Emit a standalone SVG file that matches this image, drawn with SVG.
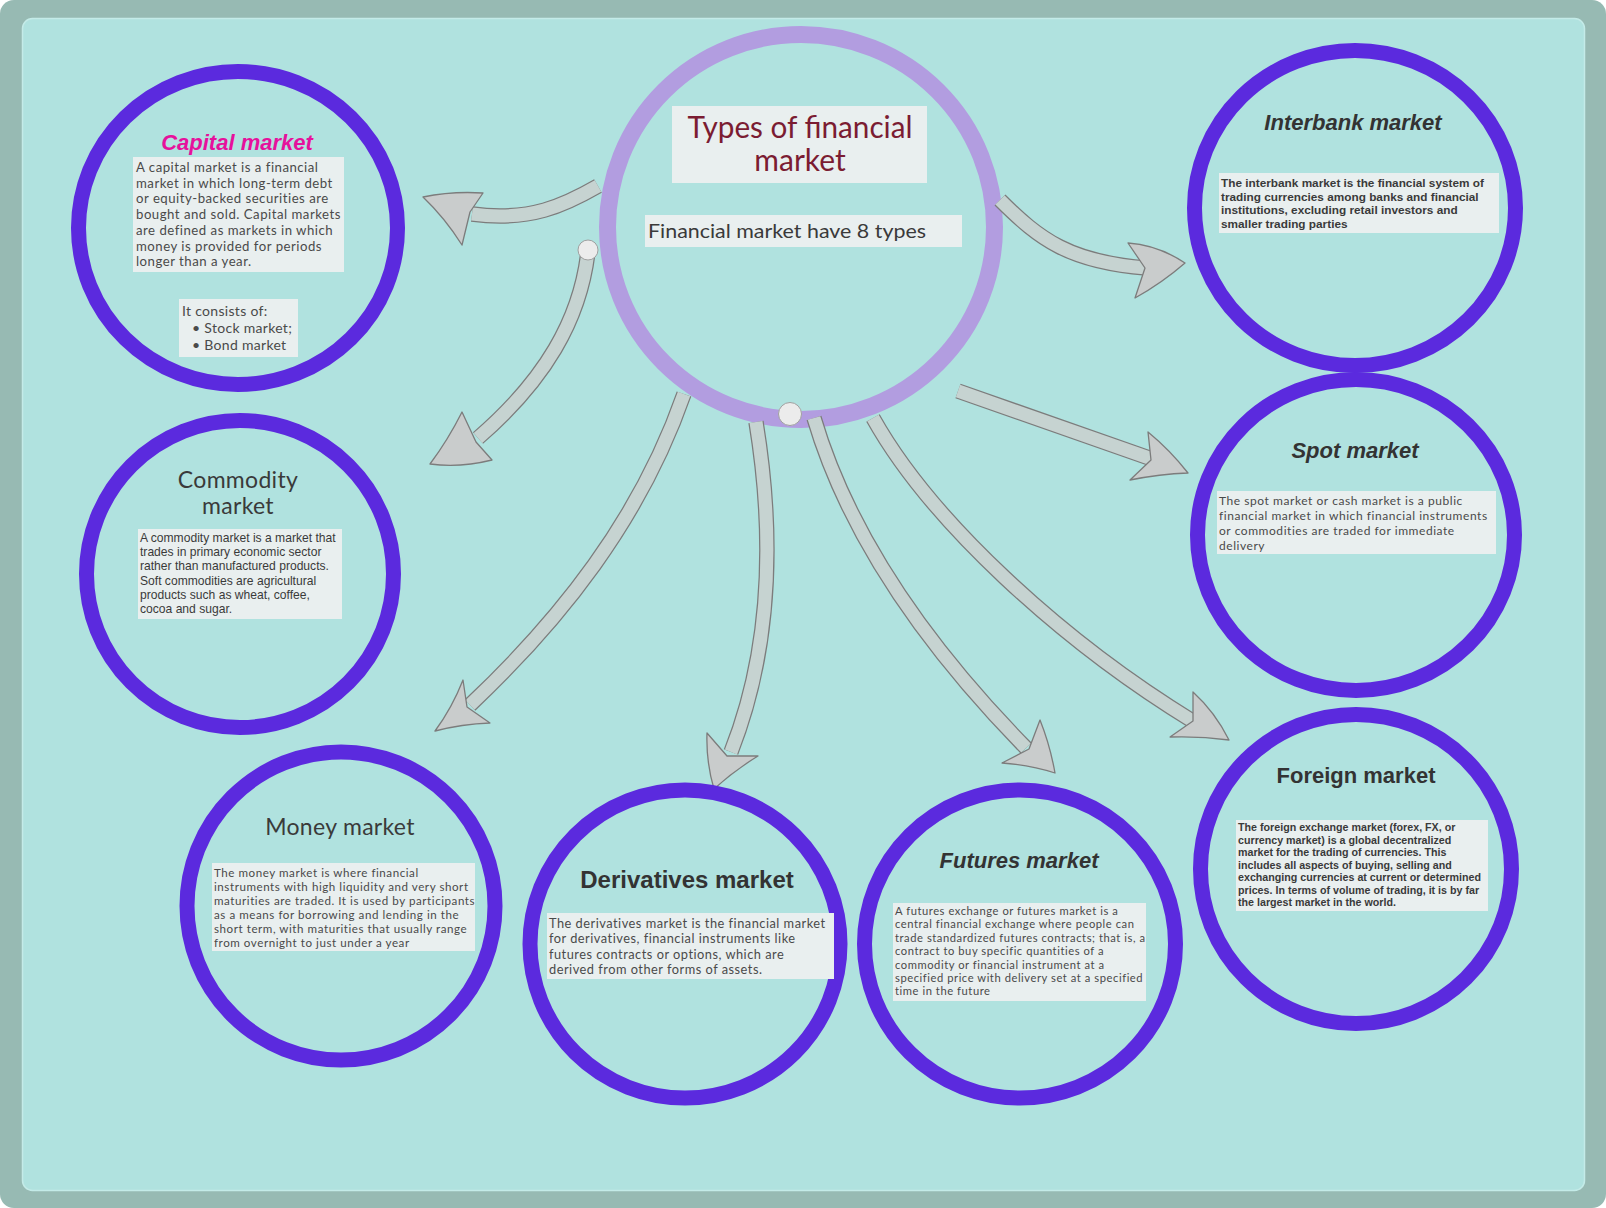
<svg xmlns="http://www.w3.org/2000/svg" width="1606" height="1208" viewBox="0 0 1606 1208">
<defs>
<style>
.ring{fill:none;stroke:#5b2ade;stroke-width:15}
.hub{fill:none;stroke:#b29de0;stroke-width:17}
.box{fill:#e9efef}
.q{font-family:"Lato","Open Sans",sans-serif;fill:#4a4a4a;letter-spacing:0.55px}
.a{font-family:"Liberation Sans",Arial,sans-serif;fill:#3a3a3a}
.tq{font-family:"Lato","Open Sans",sans-serif;fill:#3a3a3a;font-size:23px;text-anchor:middle;letter-spacing:0.3px}
.tb{font-family:"Liberation Sans",Arial,sans-serif;fill:#333;font-weight:bold;font-size:22px;text-anchor:middle}
.it{font-style:italic}
.sho{fill:none;stroke:#7c7c7c;stroke-width:15.5}
.sh{fill:none;stroke:#c6d3d1;stroke-width:13}
.hd{fill:#c9cccc;stroke:#7c7c7c;stroke-width:1.3;stroke-linejoin:round}
.dot{fill:#ececec;stroke:#a0a0a0;stroke-width:1}
</style>
</defs>
<rect x="0" y="0" width="1606" height="1208" rx="14" fill="#97bab3"/>
<rect x="22.5" y="18.5" width="1562" height="1172" rx="10" fill="#b0e2df" stroke="#c4ebe8" stroke-width="1.5"/>

<g id="central">
<ellipse class="hub" cx="801" cy="227" rx="193.5" ry="192.5"/>
<rect class="box" x="672" y="106" width="255" height="77"/>
<text x="800" y="138" font-family="Lato,'Open Sans',sans-serif" font-size="30" fill="#7b1c32" text-anchor="middle" textLength="225" lengthAdjust="spacingAndGlyphs">Types of financial</text>
<text x="800" y="171" font-family="Lato,'Open Sans',sans-serif" font-size="30" fill="#7b1c32" text-anchor="middle">market</text>
<rect class="box" x="645" y="215" width="317" height="32"/>
<text x="648" y="238" font-family="Lato,'Open Sans',sans-serif" font-size="20" fill="#3a3a3a" textLength="278" lengthAdjust="spacingAndGlyphs">Financial market have 8 types</text>
</g>

<g id="connectors">
<path class="sho" d="M598 186 C565 205 530 222 472 214"/>
<path class="sh" d="M598 186 C565 205 530 222 472 214"/>
<path class="hd" d="M423 197 Q452 191 483 193 L470 212 L462 245 Q445 218 423 197 Z"/>

<path class="sho" d="M588 252 C580 320 545 380 478 438"/>
<path class="sh" d="M588 252 C580 320 545 380 478 438"/>
<path class="hd" d="M430 464 Q448 440 462 412 L476 442 L492 460 Q460 468 430 464 Z"/>

<path class="sho" d="M684 394 C640 520 560 620 470 705"/>
<path class="sh" d="M684 394 C640 520 560 620 470 705"/>
<path class="hd" d="M435 731 Q452 708 463 680 L467 707 L490 723 Q462 724 435 731 Z"/>

<path class="sho" d="M756 422 C772 520 775 640 731 752"/>
<path class="sh" d="M756 422 C772 520 775 640 731 752"/>
<path class="hd" d="M714 789 Q706 762 707 733 L727 756 L758 756 Q735 770 714 789 Z"/>

<path class="sho" d="M814 418 C850 540 930 650 1026 748"/>
<path class="sh" d="M814 418 C850 540 930 650 1026 748"/>
<path class="hd" d="M1055 773 Q1050 745 1040 720 L1029 749 L1002 763 Q1030 765 1055 773 Z"/>

<path class="sho" d="M873 418 C930 520 1060 640 1194 722"/>
<path class="sh" d="M873 418 C930 520 1060 640 1194 722"/>
<path class="hd" d="M1229 740 Q1215 712 1193 692 L1193 721 L1170 737 Q1200 736 1229 740 Z"/>

<path class="sho" d="M958 391 L1152 459"/>
<path class="sh" d="M958 391 L1152 459"/>
<path class="hd" d="M1188 473 Q1170 450 1148 432 L1151 460 L1130 480 Q1160 474 1188 473 Z"/>

<path class="sho" d="M1000 200 C1040 240 1070 262 1146 268"/>
<path class="sh" d="M1000 200 C1040 240 1070 262 1146 268"/>
<path class="hd" d="M1185 263 Q1158 245 1128 243 L1145 268 L1135 298 Q1162 283 1185 263 Z"/>

<circle class="dot" cx="588" cy="250" r="10"/>
<circle class="dot" cx="790" cy="414" r="11.5"/>
</g>

<g id="capital">
<ellipse class="ring" cx="238" cy="228" rx="159.5" ry="156.5"/>
<text x="237" y="150" class="tb it" style="fill:#e6119c">Capital market</text>
<rect class="box" x="133" y="157" width="211" height="115"/>
<text class="q" font-size="13.2" style="letter-spacing:0.5px">
<tspan x="136" y="172">A capital market is a financial</tspan>
<tspan x="136" y="187.7">market in which long-term debt</tspan>
<tspan x="136" y="203.4">or equity-backed securities are</tspan>
<tspan x="136" y="219.1">bought and sold. Capital markets</tspan>
<tspan x="136" y="234.8">are defined as markets in which</tspan>
<tspan x="136" y="250.5">money is provided for periods</tspan>
<tspan x="136" y="266.2">longer than a year.</tspan>
</text>
<rect class="box" x="179" y="299" width="119" height="58"/>
<text class="q" font-size="14" style="letter-spacing:0.3px">
<tspan x="182" y="316">It consists of:</tspan>
<tspan x="192" y="333">• Stock market;</tspan>
<tspan x="192" y="350">• Bond market</tspan>
</text>
</g>

<g id="commodity">
<ellipse class="ring" cx="240" cy="574" rx="153.5" ry="153.5"/>
<text class="tq" x="238" y="488">Commodity</text>
<text class="tq" x="238" y="514">market</text>
<rect class="box" x="138" y="529" width="204" height="90"/>
<text class="a" font-size="12.1" fill="#444">
<tspan x="140" y="542">A commodity market is a market that</tspan>
<tspan x="140" y="556.2">trades in primary economic sector</tspan>
<tspan x="140" y="570.4">rather than manufactured products.</tspan>
<tspan x="140" y="584.6">Soft commodities are agricultural</tspan>
<tspan x="140" y="598.8">products such as wheat, coffee,</tspan>
<tspan x="140" y="613">cocoa and sugar.</tspan>
</text>
</g>

<g id="interbank">
<ellipse class="ring" cx="1355" cy="208" rx="160.5" ry="157.5"/>
<text class="tb it" x="1353" y="130">Interbank market</text>
<rect class="box" x="1219" y="173" width="280" height="60"/>
<text class="a" font-size="11.8" font-weight="bold" fill="#2a2a2a">
<tspan x="1221" y="187">The interbank market is the financial system of</tspan>
<tspan x="1221" y="200.5">trading currencies among banks and financial</tspan>
<tspan x="1221" y="214">institutions, excluding retail investors and</tspan>
<tspan x="1221" y="227.5">smaller trading parties</tspan>
</text>
</g>

<g id="spot">
<ellipse class="ring" cx="1356" cy="535" rx="158.5" ry="155.5"/>
<text class="tb it" x="1355" y="458">Spot market</text>
<rect class="box" x="1217" y="491" width="279" height="63"/>
<text class="q" font-size="12" style="letter-spacing:0.55px">
<tspan x="1219" y="505">The spot market or cash market is a public</tspan>
<tspan x="1219" y="520">financial market in which financial instruments</tspan>
<tspan x="1219" y="535">or commodities are traded for immediate</tspan>
<tspan x="1219" y="549.5">delivery</tspan>
</text>
</g>

<g id="foreign">
<ellipse class="ring" cx="1356" cy="869" rx="155.5" ry="154.5"/>
<text class="tb" x="1356" y="783">Foreign market</text>
<rect class="box" x="1236" y="820" width="252" height="91"/>
<text class="a" font-size="10.7" font-weight="bold" fill="#2a2a2a">
<tspan x="1238" y="831">The foreign exchange market (forex, FX, or</tspan>
<tspan x="1238" y="843.5">currency market) is a global decentralized</tspan>
<tspan x="1238" y="856">market for the trading of currencies. This</tspan>
<tspan x="1238" y="868.5">includes all aspects of buying, selling and</tspan>
<tspan x="1238" y="881">exchanging currencies at current or determined</tspan>
<tspan x="1238" y="893.5">prices. In terms of volume of trading, it is by far</tspan>
<tspan x="1238" y="906">the largest market in the world.</tspan>
</text>
</g>

<g id="money">
<ellipse class="ring" cx="341" cy="906" rx="154" ry="154"/>
<text class="tq" x="340" y="835">Money market</text>
<rect class="box" x="212" y="863" width="263" height="88"/>
<text class="q" font-size="11.6" style="letter-spacing:0.55px">
<tspan x="214" y="877">The money market is where financial</tspan>
<tspan x="214" y="891">instruments with high liquidity and very short</tspan>
<tspan x="214" y="905">maturities are traded. It is used by participants</tspan>
<tspan x="214" y="919">as a means for borrowing and lending in the</tspan>
<tspan x="214" y="933">short term, with maturities that usually range</tspan>
<tspan x="214" y="947">from overnight to just under a year</tspan>
</text>
</g>

<g id="derivatives">
<ellipse class="ring" cx="685" cy="944" rx="155" ry="154"/>
<text class="tb" x="687" y="888" style="font-size:24px">Derivatives market</text>
<rect class="box" x="547" y="913" width="287" height="66"/>
<text class="q" font-size="12.8" style="letter-spacing:0.5px">
<tspan x="549" y="928">The derivatives market is the financial market</tspan>
<tspan x="549" y="943.3">for derivatives, financial instruments like</tspan>
<tspan x="549" y="958.6">futures contracts or options, which are</tspan>
<tspan x="549" y="974">derived from other forms of assets.</tspan>
</text>
</g>

<g id="futures">
<ellipse class="ring" cx="1020" cy="944" rx="155.5" ry="154"/>
<text class="tb it" x="1019" y="868">Futures market</text>
<rect class="box" x="893" y="903" width="253" height="98"/>
<text class="q" font-size="11.2" style="letter-spacing:0.55px">
<tspan x="895" y="915">A futures exchange or futures market is a</tspan>
<tspan x="895" y="928.4">central financial exchange where people can</tspan>
<tspan x="895" y="941.8">trade standardized futures contracts; that is, a</tspan>
<tspan x="895" y="955.2">contract to buy specific quantities of a</tspan>
<tspan x="895" y="968.6">commodity or financial instrument at a</tspan>
<tspan x="895" y="982">specified price with delivery set at a specified</tspan>
<tspan x="895" y="995.4">time in the future</tspan>
</text>
</g>
</svg>
